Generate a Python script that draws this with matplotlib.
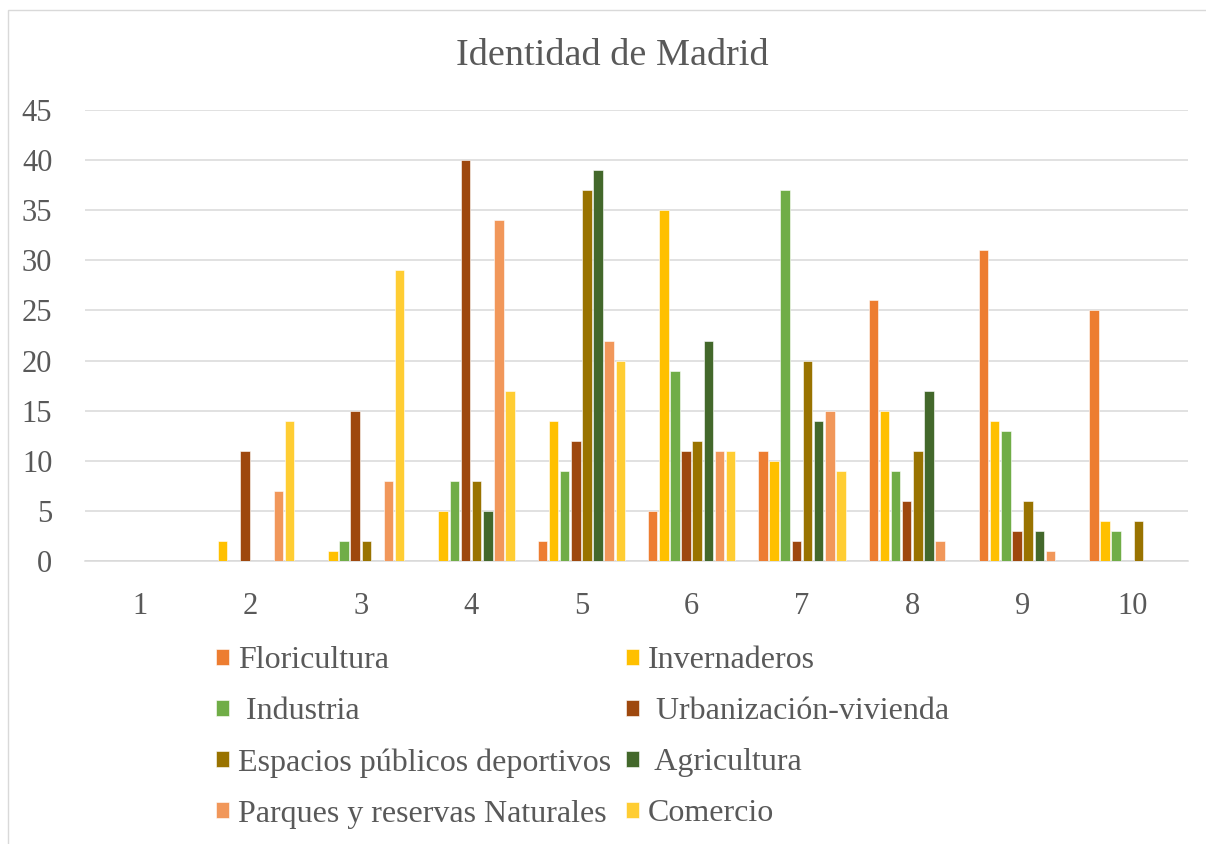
import matplotlib
matplotlib.use("Agg")
import matplotlib.pyplot as plt
from matplotlib.patches import Rectangle
import numpy as np

categories = ["1", "2", "3", "4", "5", "6", "7", "8", "9", "10"]
series_names = ["Floricultura", "Invernaderos", " Industria", " Urbanización-vivienda",
                "Espacios públicos deportivos", " Agricultura",
                "Parques y reservas Naturales", "Comercio"]
floricultura = [0, 0, 0, 0, 2, 5, 11, 26, 31, 25]
invernaderos = [0, 2, 1, 5, 14, 35, 10, 15, 14, 4]
industria = [0, 0, 2, 8, 9, 19, 37, 9, 13, 3]
urbanizacion = [0, 11, 15, 40, 12, 11, 2, 6, 3, 0]
espacios = [0, 0, 2, 8, 37, 12, 20, 11, 6, 4]
agricultura = [0, 0, 0, 5, 39, 22, 14, 17, 3, 0]
parques = [0, 7, 8, 34, 22, 11, 15, 2, 1, 0]
comercio = [0, 14, 29, 17, 20, 11, 9, 0, 0, 0]
colors = ["#ED7D31", "#FFC000", "#70AD47", "#9E480E",
          "#997300", "#43682B", "#F1975A", "#FFCD33"]
yticks = [0, 5, 10, 15, 20, 25, 30, 35, 40, 45]

all_series = [floricultura, invernaderos, industria, urbanizacion,
              espacios, agricultura, parques, comercio]

txt = "#595959"
serif = ["Liberation Serif", "DejaVu Serif"]
plt.rcParams["font.family"] = serif

fig = plt.figure(figsize=(12.06, 8.44), dpi=100)
ax = fig.add_axes([85 / 1206, 283 / 844, (1188 - 85) / 1206, (561 - 110) / 844])

x = np.arange(1, len(categories) + 1)
slot = 0.101
bw = 0.086
handles = []
for j, (vals, c, name) in enumerate(zip(all_series, colors, series_names)):
    h = ax.bar(x + (j - 3.5) * slot, vals, width=bw, color=c, label=name,
               edgecolor="white", linewidth=0.4, zorder=3)
    handles.append(h)

ax.set_xlim(0.5, 10.5)
ax.set_ylim(0, 45)
ax.set_yticks(yticks)
ax.set_xticks(x)
ax.set_xticklabels(categories)
ax.tick_params(axis="both", length=0, labelsize=22, labelcolor=txt)
ax.tick_params(axis="y", pad=23.5)
ax.tick_params(axis="x", pad=22)
ax.grid(axis="y", color="#D9D9D9", linewidth=1.1, zorder=0)
ax.set_axisbelow(True)
for s in ["top", "right", "left"]:
    ax.spines[s].set_visible(False)
ax.spines["bottom"].set_color("#D9D9D9")
ax.spines["bottom"].set_linewidth(1.1)

fig.text(612 / 1206, 1 - 56 / 844, "Identidad de Madrid", ha="center", va="center",
         fontsize=27.5, color=txt)

order = [0, 2, 4, 6, 1, 3, 5, 7]
leg = fig.legend([handles[i] for i in order], [series_names[i] for i in order],
                 ncol=2, loc="upper left", bbox_to_anchor=(216 / 1206, 1 - 646 / 844),
                 frameon=False, fontsize=23, handlelength=0.4, handleheight=0.4,
                 handletextpad=0.3, columnspacing=0.45, labelspacing=0.69,
                 borderpad=0, borderaxespad=0)
for t in leg.get_texts():
    t.set_color(txt)

fig.patches.append(Rectangle((8 / 1206, -0.1), 1.2, 1.1 - 10 / 844, transform=fig.transFigure,
                             fill=False, edgecolor="#D9D9D9", linewidth=1.0))

fig.savefig("out.png", dpi=100)
